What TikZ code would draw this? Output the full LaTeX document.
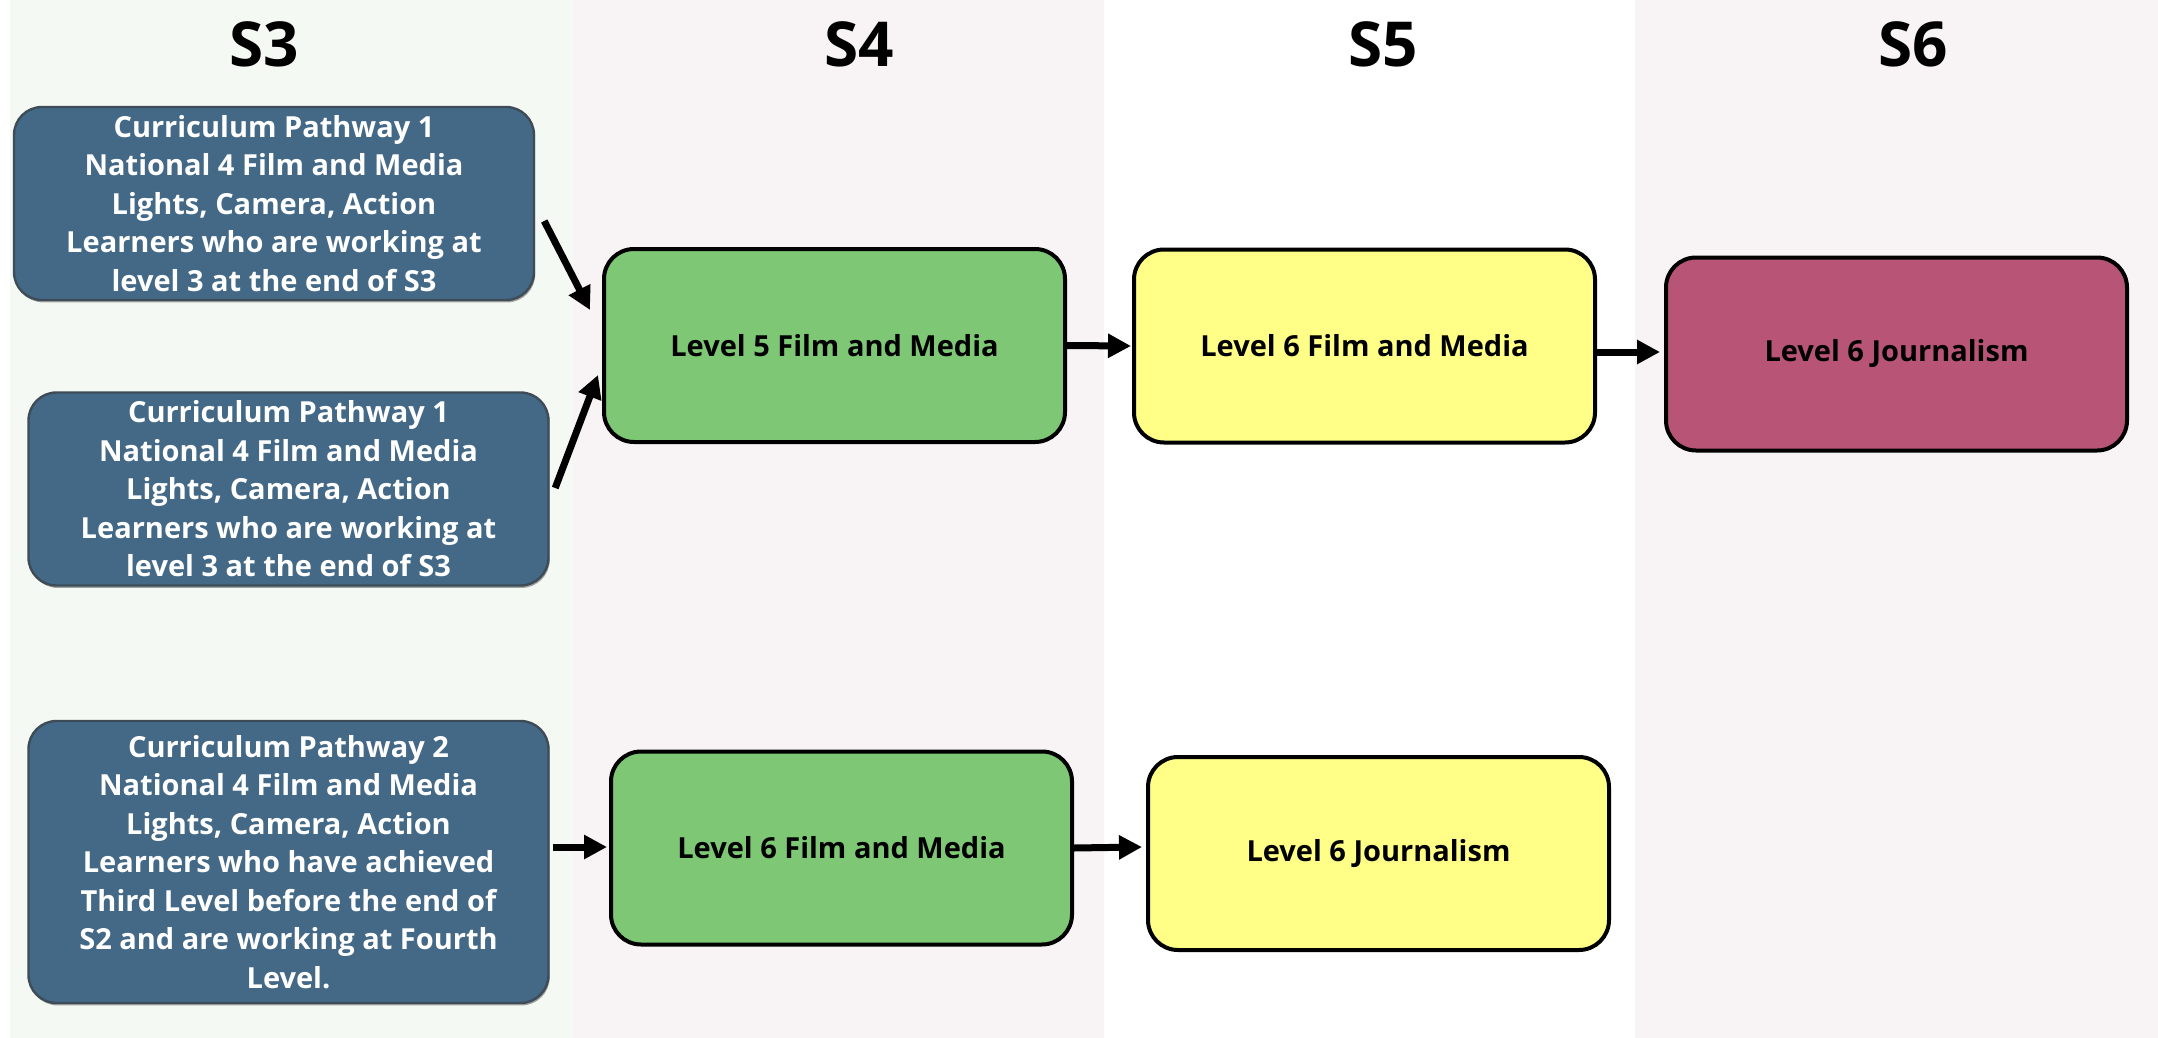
\documentclass[tikz,border=0pt]{standalone}
\usepackage{fontspec}
\setmainfont{Open Sans}
\usetikzlibrary{arrows.meta,calc,shadows}
\definecolor{bandA}{HTML}{F5F9F3}
\definecolor{bandB}{HTML}{F8F3F5}
\definecolor{pathblue}{HTML}{436987}
\definecolor{pathedge}{HTML}{3E4C58}
\definecolor{lvgreen}{HTML}{7DC775}
\definecolor{lvyellow}{HTML}{FFFF88}
\definecolor{lvpurple}{HTML}{B85576}
\begin{document}
\begin{tikzpicture}[x=0.5pt,y=-0.5pt,
  coltitle/.style={font=\fontsize{31}{36}\selectfont\bfseries, text=black},
  pathbox/.style={draw=pathedge, line width=1.2pt, fill=pathblue, rounded corners=14pt,
    text=white, align=center, inner sep=0pt, minimum width=260pt,
    font=\fontsize{14.5}{19.25}\selectfont\bfseries,
    drop shadow={shadow xshift=0.6pt, shadow yshift=-1.2pt, opacity=0.35, fill=black}},
  lvbox/.style={draw=black, line width=2pt, rounded corners=15pt, text=black,
    align=center, inner sep=0pt, minimum width=230.5pt, minimum height=96.5pt,
    font=\fontsize{14.5}{19.25}\selectfont\bfseries},
  flowarrow/.style={draw=black, line width=3.5pt, -{Triangle[length=11.5pt,width=11.5pt]}}
]
\useasboundingbox (0,0) rectangle (2158,1038);
\fill[white] (0,0) rectangle (2158,1038);
% column bands
\fill[bandA] (10,0) rectangle (573,1038);
\fill[bandB] (573,0) rectangle (1104,1038);
\fill[bandB] (1635,0) rectangle (2158,1038);
% titles
\node[coltitle] (t3) at (264,44) {S3};
\node[coltitle] (t4) at (859,44) {S4};
\node[coltitle] (t5) at (1383,44) {S5};
\node[coltitle] (t6) at (1913,44) {S6};
% pathway boxes
\node[pathbox, minimum height=96.5pt] (A1) at (274,203.5) {Curriculum Pathway 1\\National 4 Film and Media\\Lights, Camera, Action\\Learners who are working at\\level 3 at the end of S3};
\node[pathbox, minimum height=96.5pt] (A2) at (288.5,489) {Curriculum Pathway 1\\National 4 Film and Media\\Lights, Camera, Action\\Learners who are working at\\level 3 at the end of S3};
\node[pathbox, minimum height=141pt] (A3) at (288.5,862) {Curriculum Pathway 2\\National 4 Film and Media\\Lights, Camera, Action\\Learners who have achieved\\Third Level before the end of\\S2 and are working at Fourth\\Level.};
% level boxes
\node[lvbox, fill=lvgreen] (B1) at (834.5,345.5) {Level 5 Film and Media};
\node[lvbox, fill=lvgreen] (B2) at (841.5,848) {Level 6 Film and Media};
\node[lvbox, fill=lvyellow] (C1) at (1364.5,346) {Level 6 Film and Media};
\node[lvbox, fill=lvyellow] (C2) at (1378.5,853.5) {Level 6 Journalism};
\node[lvbox, fill=lvpurple] (D1) at (1896.5,354) {Level 6 Journalism};
% arrows
\draw[flowarrow] ($(A1.east)+(9,17.5)$) -- ($(B1.west)+(-12,-35.5)$);
\draw[flowarrow] ($(A2.east)+(5.5,-1)$) -- ($(B1.west)+(-4,29.5)$);
\draw[flowarrow] (B1.east) -- ($(C1.west)+(-1,0)$);
\draw[flowarrow] ($(C1.east)+(0,6)$) -- ($(D1.west)+(-4,-2)$);
\draw[flowarrow] ($(A3.east)+(3,-15)$) -- ($(B2.west)+(-2,-1)$);
\draw[flowarrow] (B2.east) -- ($(C2.west)+(-4,-6.5)$);
\end{tikzpicture}
\end{document}
